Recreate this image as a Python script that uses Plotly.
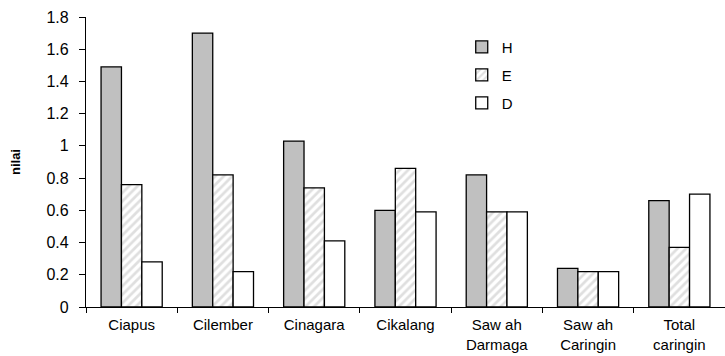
import plotly.graph_objects as go

categories = ["Ciapus", "Cilember", "Cinagara", "Cikalang",
              "Saw ah<br>Darmaga", "Saw ah<br>Caringin", "Total<br>caringin"]
h_values = [1.49, 1.70, 1.03, 0.60, 0.82, 0.24, 0.66]
e_values = [0.76, 0.82, 0.74, 0.86, 0.59, 0.22, 0.37]
d_values = [0.28, 0.22, 0.41, 0.59, 0.59, 0.22, 0.70]
y_ticks = [0, 0.2, 0.4, 0.6, 0.8, 1, 1.2, 1.4, 1.6, 1.8]

FONT = "Liberation Sans, Arial, sans-serif"
edge = dict(color="black", width=1.3)

fig = go.Figure()
fig.add_trace(go.Bar(name="H", x=categories, y=h_values, legendgroup="h",
                     marker=dict(color="#c0c0c0", line=edge)))
fig.add_trace(go.Bar(name="E", x=categories, y=e_values, legendgroup="e",
                     marker=dict(color="white", line=edge,
                                 pattern=dict(shape="/", fgcolor="#c0c0c0",
                                              bgcolor="white", size=6,
                                              solidity=0.45))))
fig.add_trace(go.Bar(name="D", x=categories, y=d_values, legendgroup="d",
                     marker=dict(color="white", line=edge)))

fig.update_layout(
    width=725, height=356,
    margin=dict(l=86, r=0, t=17, b=49),
    paper_bgcolor="white", plot_bgcolor="white",
    font=dict(family=FONT, color="black"),
    barmode="group", bargap=0.33, bargroupgap=0,
    showlegend=True,
    legend=dict(x=0.588, y=0.953, xanchor="left", yanchor="top",
                traceorder="grouped", tracegroupgap=5.5,
                bgcolor="rgba(0,0,0,0)", font=dict(size=15, family=FONT)),
)
fig.update_xaxes(
    showline=True, linecolor="black", linewidth=1.3,
    ticks="outside", ticklen=5, tickcolor="black", tickwidth=1.3,
    tickson="boundaries", showgrid=False, ticklabelstandoff=4,
    tickfont=dict(size=15, family=FONT),
)
fig.update_yaxes(
    range=[0, 1.8], tickvals=y_ticks,
    ticktext=[f"{v:g}" for v in y_ticks],
    showline=True, linecolor="black", linewidth=1.3,
    ticks="outside", ticklen=6, tickcolor="black", tickwidth=1.3,
    showgrid=False, zeroline=False, ticklabelstandoff=7,
    tickfont=dict(size=16, family=FONT),
    title=dict(text="<b>nilai</b>", font=dict(size=13, family=FONT), standoff=22),
)

fig.write_html("out.html")
